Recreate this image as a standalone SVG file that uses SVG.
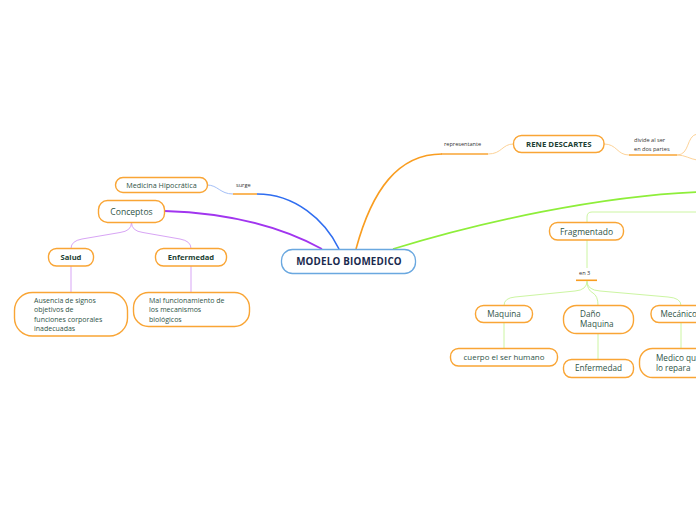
<svg xmlns="http://www.w3.org/2000/svg" width="696" height="520" viewBox="0 0 696 520">
<style>
.box{fill:#fff;stroke:#f9a535;stroke-width:1.4}
.t{font-family:"Open Sans","Noto Sans",sans-serif;fill:#2f5447}
.b{font-family:"Open Sans","Noto Sans",sans-serif;fill:#1c3f33;font-weight:bold}
.s{font-family:"Open Sans","Noto Sans",sans-serif;fill:#333;font-size:5.6px}
.c{fill:none}
</style>
<rect width="696" height="520" fill="#fff"/>
<g id="connectors" class="c">
  <path d="M207,185 C218,185 220,194 233,194" stroke="#9ab8f5" stroke-width="0.9"/>
  <path d="M233,194 L257,194" stroke="#f9a535" stroke-width="1.6"/>
  <path d="M257,194 C295,194 325,220 339,249" stroke="#2f6df0" stroke-width="1.6"/>
  <path d="M164.5,211 C230,213 280,226 322,249" stroke="#a135ef" stroke-width="1.8"/>
  <path d="M131.5,222.5 Q131.5,231 120,232.5 L82,239 Q71,241 71,248.5" stroke="#d8a5f5" stroke-width="1"/>
  <path d="M131.5,222.5 Q131.5,231 143,232.5 L180,239 Q191,241 191,248.5" stroke="#d8a5f5" stroke-width="1"/>
  <path d="M71,266 L71,292.5" stroke="#d8a5f5" stroke-width="1"/>
  <path d="M191,266 L191,292.5" stroke="#d8a5f5" stroke-width="1"/>
  <path d="M356,249 C372,190 398,154 442,154" stroke="#f99d20" stroke-width="1.6"/>
  <path d="M441,154 L488,154" stroke="#f9a535" stroke-width="1.6"/>
  <path d="M488,154 C502,154 502,144 513.5,144" stroke="#fccd8c" stroke-width="0.9"/>
  <path d="M604,144 C617,144 617,155 629,155" stroke="#fccd8c" stroke-width="0.9"/>
  <path d="M629,155 L677,155" stroke="#f9a535" stroke-width="1.6"/>
  <path d="M677,155 C690,155 686,136 697,134" stroke="#fccd8c" stroke-width="0.9"/>
  <path d="M677,155 C685,155 690,159 697,160" stroke="#fccd8c" stroke-width="0.9"/>
  <path d="M393,249 C480,222 600,196 697,192" stroke="#8eee3a" stroke-width="1.7"/>
  <path d="M697,212 L592,212 Q587,212 587,217 L587,222.5" stroke="#ccf5a2" stroke-width="1"/>
  <path d="M587,240 L587,268" stroke="#ccf5a2" stroke-width="1"/>
  <path d="M576,280.3 L597,280.3" stroke="#f99d20" stroke-width="1.6"/>
  <path d="M587,281 Q587,290 575,291 L515,297 Q504,298 504,305.5" stroke="#ccf5a2" stroke-width="1"/>
  <path d="M587,281 Q587,290 593,293 Q598,296 598,305.5" stroke="#ccf5a2" stroke-width="1"/>
  <path d="M587,281 Q587,290 600,291 L668,297 Q681,298 681,305.5" stroke="#ccf5a2" stroke-width="1"/>
  <path d="M504,322.5 L504,348.5" stroke="#ccf5a2" stroke-width="1"/>
  <path d="M598,333.5 L598,359.5" stroke="#ccf5a2" stroke-width="1"/>
  <path d="M681,322.5 L681,348.5" stroke="#ccf5a2" stroke-width="1"/>
</g>
<text class="s" x="236" y="187">surge</text>
<text class="s" x="444" y="146">representante</text>
<text class="s" x="634" y="141.5">divide al ser</text>
<text class="s" x="634" y="150.5">en dos partes</text>
<text class="s" x="579" y="275" font-size="6">en 3</text>
<g id="modelo">
  <rect x="281.5" y="249.5" width="134" height="24" rx="11" fill="#fff" stroke="#6aa8e0" stroke-width="1.3"/>
  <text class="b" x="349" y="265" font-size="9.8" text-anchor="middle" letter-spacing="0.2" style="fill:#1a2a4e">MODELO BIOMEDICO</text>
</g>
<g id="medicina">
  <rect class="box" x="115.5" y="177.5" width="92" height="15" rx="7.5"/>
  <text class="t" x="161.5" y="187.7" font-size="7.2" text-anchor="middle">Medicina Hipocrática</text>
</g>
<g id="conceptos">
  <rect class="box" x="98.5" y="200.5" width="66" height="22" rx="9"/>
  <text class="t" x="131.5" y="214.5" font-size="8.6" text-anchor="middle">Conceptos</text>
</g>
<g id="salud">
  <rect class="box" x="48.5" y="248.5" width="45" height="17.5" rx="8"/>
  <text class="b" x="71" y="260" font-size="7.6" text-anchor="middle">Salud</text>
</g>
<g id="enfermedad">
  <rect class="box" x="155.5" y="248.5" width="71" height="17.5" rx="8"/>
  <text class="b" x="191" y="260.3" font-size="7.6" text-anchor="middle">Enfermedad</text>
</g>
<g id="ausencia">
  <rect class="box" x="14.5" y="292.5" width="113" height="43.5" rx="18"/>
  <text class="t" font-size="7" x="34"><tspan x="34" y="302.8">Ausencia de signos</tspan><tspan x="34" y="312">objetivos de</tspan><tspan x="34" y="321.6">funciones corporales</tspan><tspan x="34" y="330.8">inadecuadas</tspan></text>
</g>
<g id="mal">
  <rect class="box" x="133.5" y="292.5" width="116" height="34" rx="15"/>
  <text class="t" font-size="7" x="149"><tspan x="149" y="302.8">Mal funcionamiento de</tspan><tspan x="149" y="312.3">los mecanismos</tspan><tspan x="149" y="321.6">biológicos</tspan></text>
</g>
<g id="rene">
  <rect class="box" x="513.5" y="135.5" width="90.5" height="17" rx="8"/>
  <text class="b" x="558.8" y="147" font-size="7.8" text-anchor="middle">RENE DESCARTES</text>
</g>
<g id="fragmentado">
  <rect class="box" x="549.5" y="222.5" width="74" height="17.5" rx="8"/>
  <text class="t" x="586.5" y="234.5" font-size="8.5" text-anchor="middle">Fragmentado</text>
</g>
<g id="maquina">
  <rect class="box" x="475.5" y="305.5" width="57" height="17" rx="8"/>
  <text class="t" x="504" y="317" font-size="8.2" text-anchor="middle">Maquina</text>
</g>
<g id="dano">
  <rect class="box" x="563.5" y="305.5" width="70" height="28" rx="13"/>
  <text class="t" font-size="8.2"><tspan x="580" y="317">Daño</tspan><tspan x="580" y="327.3">Maquina</tspan></text>
</g>
<g id="mecanico">
  <rect class="box" x="651" y="305.5" width="60" height="17" rx="8"/>
  <text class="t" x="660.5" y="317" font-size="8.2">Mecánico</text>
</g>
<g id="cuerpo">
  <rect class="box" x="450.5" y="348.5" width="107" height="17.5" rx="8"/>
  <text class="t" x="504" y="360.3" font-size="7.9" text-anchor="middle">cuerpo el ser humano</text>
</g>
<g id="enfermedad2">
  <rect class="box" x="563.5" y="359.5" width="70" height="18" rx="8"/>
  <text class="t" x="598.5" y="371.3" font-size="8.2" text-anchor="middle">Enfermedad</text>
</g>
<g id="medico">
  <rect class="box" x="639.5" y="348.5" width="80" height="29" rx="13"/>
  <text class="t" font-size="8.2"><tspan x="656" y="361">Medico qu</tspan><tspan x="656" y="371">lo repara</tspan></text>
</g>
</svg>
